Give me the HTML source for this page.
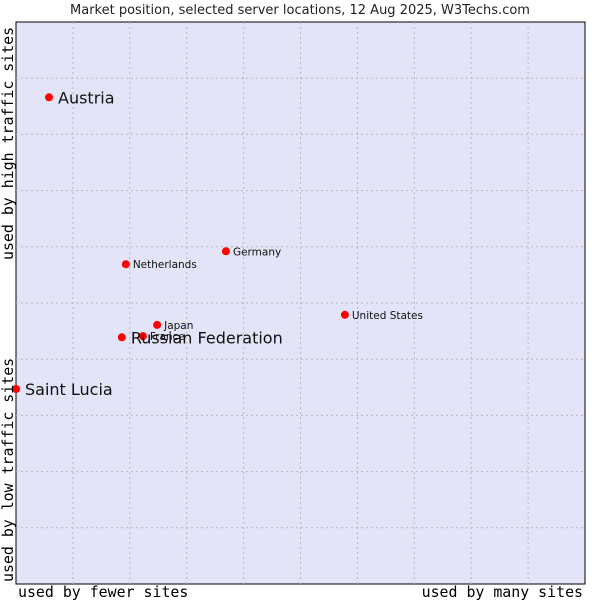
<!DOCTYPE html>
<html><head><meta charset="utf-8"><style>
html,body{margin:0;padding:0;background:#fff;}
svg{display:block;}
</style></head><body>
<svg id="chart" width="600" height="600" xmlns="http://www.w3.org/2000/svg">
<text x="300" y="14" text-anchor="middle" font-family="'DejaVu Sans', sans-serif" font-size="13" fill="#222">Market position, selected server locations, 12 Aug 2025, W3Techs.com</text>
<rect x="16" y="22" width="569" height="562" fill="#e4e4f8" stroke="#000" stroke-width="1"/>
<g id="grid"></g>
<g id="points"></g>
<text x="18" y="597" font-family="'DejaVu Sans Mono', monospace" font-size="14.9" fill="#000">used by fewer sites</text>
<text x="583" y="597" text-anchor="end" font-family="'DejaVu Sans Mono', monospace" font-size="14.9" fill="#000">used by many sites</text>
<text transform="translate(13,582) rotate(-90)" font-family="'DejaVu Sans Mono', monospace" font-size="14.9" fill="#000">used by low traffic sites</text>
<text transform="translate(13,260) rotate(-90)" font-family="'DejaVu Sans Mono', monospace" font-size="14.9" fill="#000">used by high traffic sites</text>
</svg>
<script>
const countries = ["Austria","Netherlands","Germany","United States","Japan","France","Russian Federation","Saint Lucia"];
const xValues = [5.8,19.3,36.9,57.8,24.8,22.3,18.6,0];
const yValues = [86.6,56.9,59.2,47.9,46.1,44.1,43.9,34.7];
const highlighted = [true,false,false,false,false,false,true,true];
const gridTicks = [10,20,30,40,50,60,70,80,90];

const L=16,R=585,T=22,B=584;
const sx=v=>L+(R-L)*v/100;
const sy=v=>B-(B-T)*v/100;
const NS="http://www.w3.org/2000/svg";
const grid=document.getElementById('grid');
gridTicks.forEach(t=>{
  const v=document.createElementNS(NS,'line');
  v.setAttribute('x1',sx(t));v.setAttribute('x2',sx(t));v.setAttribute('y1',T);v.setAttribute('y2',B);
  v.setAttribute('stroke','#b8b8b8');v.setAttribute('stroke-dasharray','2,3');
  
  
  grid.appendChild(v);
  const h=document.createElementNS(NS,'line');
  h.setAttribute('y1',sy(t));h.setAttribute('y2',sy(t));h.setAttribute('x1',L);h.setAttribute('x2',R);
  h.setAttribute('stroke','#b8b8b8');h.setAttribute('stroke-dasharray','2,3');
  
  
  grid.appendChild(h);
});
const pts=document.getElementById('points');
countries.forEach((c,i)=>{
  const x=sx(xValues[i]),y=sy(yValues[i]);
  const d=document.createElementNS(NS,'circle');
  d.setAttribute('cx',x);d.setAttribute('cy',y);d.setAttribute('r',4);d.setAttribute('fill','#f00');
  
  
  pts.appendChild(d);
  const t=document.createElementNS(NS,'text');
  const big=highlighted[i];
  t.setAttribute('x',x+(big?9:7));t.setAttribute('y',y+(big?6:4));
  t.setAttribute('font-family',"'DejaVu Sans', sans-serif");
  t.setAttribute('font-size',big?16:10.5);t.setAttribute('fill','#111');
  t.textContent=c;
  
  
  pts.appendChild(t);
});
</script>
</body></html>
